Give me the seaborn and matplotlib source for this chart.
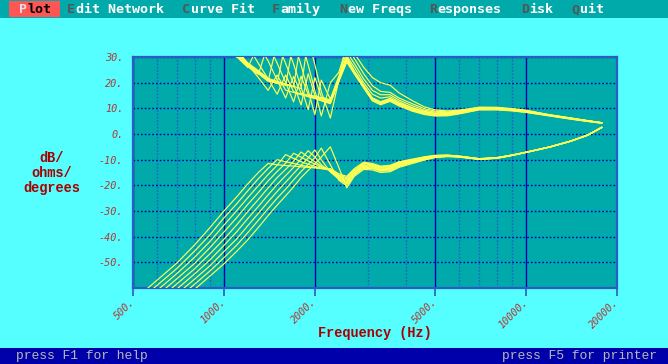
import matplotlib
matplotlib.use("Agg")
import matplotlib.pyplot as plt
from matplotlib.patches import Rectangle
import pandas as pd
import seaborn as sns

# ---------------------------------------------------------------- data
FREQS = [500, 600, 700, 800, 900, 1000, 1100, 1200, 1300, 1400, 1500, 1600,
         1700, 1800, 1900, 2000, 2100, 2250, 2400, 2550, 2700, 2900, 3100,
         3300, 3550, 3800, 4200, 4600, 5000, 5500, 6000, 7000, 8000, 9000,
         10000, 12000, 14000, 16000, 17800]

# response magnitude (dB) for each member of the family
MAG_0 = [66.8, 58.8, 50.8, 44.8, 38.8, 33.8, 34, 27, 22, 17, 23, 17.1, 16.2, 15.3, 14.5, 13.8, 12.9, 11.8, 20.4, 28, 23.4, 17.9, 12.9, 11.4, 12.7, 10.9, 8.9, 7.6, 7, 7.1, 7.8, 9.4, 9.4, 9, 8.4, 7, 5.8, 4.9, 4.2]
MAG_1 = [67.1, 59.1, 51.1, 45.1, 39.1, 34.1, 29.9, 34.4, 27.5, 21.5, 15.5, 23, 16.5, 15.6, 14.8, 14.1, 13.2, 12.1, 20.7, 28.5, 23.7, 18.2, 13.2, 11.7, 13, 11.2, 9.2, 7.9, 7.2, 7.3, 8, 9.5, 9.5, 9.1, 8.5, 7.1, 5.9, 4.9, 4.2]
MAG_2 = [67.4, 59.4, 51.4, 45.4, 39.4, 34.4, 30.2, 25.9, 34.8, 28.5, 21, 14, 22.4, 15.9, 15.1, 14.4, 13.5, 12.4, 21, 29, 24, 18.5, 13.5, 12, 13.3, 11.5, 9.5, 8.2, 7.5, 7.6, 8.3, 9.8, 9.8, 9.3, 8.7, 7.2, 6, 5, 4.3]
MAG_3 = [67.7, 59.7, 51.7, 45.7, 39.7, 34.7, 30.5, 26.2, 23.2, 35.2, 27.6, 20, 12.5, 22.5, 15.4, 14.7, 13.8, 12.7, 21.3, 29.5, 24.3, 18.8, 13.8, 12.3, 13.6, 11.8, 9.8, 8.5, 7.8, 7.9, 8.6, 10.1, 10.1, 9.5, 8.9, 7.3, 6.1, 5.1, 4.4]
MAG_4 = [68, 60, 52, 46, 40, 35, 30.8, 26.5, 23.5, 20.5, 35.6, 27.5, 19.5, 11.3, 23.5, 15, 14.1, 13, 21.6, 30, 24.6, 19.1, 14.1, 12.6, 13.9, 12.1, 10.1, 8.8, 8.1, 8.2, 8.9, 10.4, 10.4, 9.9, 9.3, 7.4, 6.2, 5.2, 4.4]
MAG_5 = [68.3, 60.3, 52.3, 46.3, 40.3, 35.3, 31.1, 26.8, 23.8, 20.8, 19.6, 36, 27.2, 18.3, 9.5, 22, 14.4, 13.3, 22, 30.5, 26, 20, 15.5, 14, 14.5, 12.5, 10.3, 8.8, 8, 7.9, 8.5, 9.9, 9.9, 9.4, 8.8, 7.3, 6.1, 5.1, 4.4]
MAG_6 = [68.6, 60.6, 52.6, 46.6, 40.6, 35.6, 31.4, 27.1, 24.1, 21.1, 19.9, 18.9, 36.4, 26.8, 17, 7.5, 21, 13.6, 22.5, 32, 27.5, 21.5, 17, 15.3, 15.3, 13.2, 11, 9.3, 8.5, 8.3, 8.8, 10.1, 10.1, 9.5, 8.9, 7.4, 6.2, 5.1, 4.4]
MAG_7 = [68.9, 60.9, 52.9, 46.9, 40.9, 35.9, 31.7, 27.4, 24.4, 21.4, 20.2, 19.2, 18.3, 36.8, 26.9, 17, 7, 20, 24, 34, 29.5, 23.5, 18.8, 16.6, 16.2, 14, 11.8, 9.9, 8.9, 8.6, 9, 10.2, 10.2, 9.6, 9, 7.4, 6.2, 5.2, 4.4]
MAG_8 = [69.2, 61.2, 53.2, 47.2, 41.2, 36.2, 32, 27.7, 24.7, 21.7, 20.5, 19.5, 18.6, 17.7, 37.2, 27, 16.5, 6.2, 21, 36, 31.5, 26, 22, 20, 19, 16, 13, 10.6, 9.4, 9, 9.3, 10.4, 10.3, 9.7, 9.1, 7.5, 6.3, 5.2, 4.4]

# phase (degrees / 10) for each member of the family
PHASE_0 = [-65, -57, -50.2, -43.2, -36.4, -30, -24.6, -19.4, -15, -11.5, -12, -12.3, -12.5, -12.8, -13, -13.2, -13.4, -13.5, -15.5, -16.5, -13.5, -11, -11.5, -12.5, -12.2, -10.8, -9.8, -8.9, -8.3, -8.2, -8.6, -9.6, -9.2, -8.2, -7.1, -5.0, -2.8, -0.4, 2.6]
PHASE_1 = [-67, -59, -52.3, -45.6, -39.2, -32.7, -27.3, -22.1, -17.4, -13.4, -10, -10.8, -11.5, -12.2, -12.7, -13.1, -13.5, -13.8, -16, -17, -14, -11.3, -11.8, -12.8, -12.5, -11, -10, -9, -8.4, -8.3, -8.6, -9.6, -9.2, -8.2, -7.1, -5.0, -2.8, -0.4, 2.6]
PHASE_2 = [-69, -61, -54.3, -48, -41.8, -35.5, -30, -24.8, -20.1, -15.8, -12.2, -8, -9.5, -10.8, -11.8, -12.6, -13.4, -14, -16.3, -17.5, -14.3, -11.6, -12, -13, -12.8, -11.2, -10.2, -9.2, -8.5, -8.3, -8.7, -9.7, -9.3, -8.2, -7.1, -5.0, -2.8, -0.4, 2.6]
PHASE_3 = [-71, -63, -56.3, -50.4, -44.2, -38.2, -32.7, -27.4, -22.8, -18.3, -14.6, -11.4, -7.5, -9, -10.5, -11.7, -13, -14.2, -16.6, -18, -14.7, -12, -12.3, -13.3, -13.1, -11.5, -10.4, -9.3, -8.6, -8.4, -8.7, -9.7, -9.3, -8.2, -7.1, -5.0, -2.8, -0.4, 2.6]
PHASE_4 = [-73, -65, -58.3, -52.5, -46.6, -41, -35.5, -30.2, -25.5, -21, -17, -13.8, -10.6, -7, -9, -10.8, -12.6, -14.4, -17, -18.5, -15, -12.3, -12.6, -13.6, -13.4, -11.8, -10.6, -9.5, -8.7, -8.5, -8.8, -9.7, -9.3, -8.2, -7.1, -5.0, -2.8, -0.4, 2.6]
PHASE_5 = [-75, -67, -60.3, -54.5, -49, -43.4, -38.2, -32.9, -28.2, -23.7, -19.7, -16.2, -13, -9.8, -6.5, -9, -12, -14.6, -17.3, -19, -15.3, -12.6, -12.9, -13.9, -13.7, -12, -10.8, -9.6, -8.8, -8.5, -8.8, -9.8, -9.4, -8.3, -7.1, -5.0, -2.8, -0.4, 2.6]
PHASE_6 = [-77, -69, -62.3, -56.5, -51.3, -45.8, -41, -35.7, -30.9, -26.4, -22.4, -18.8, -15.4, -12.2, -9.4, -6.2, -10, -14.8, -17.6, -19.5, -15.7, -13, -13.2, -14.2, -14, -12.3, -11, -9.8, -8.9, -8.6, -8.9, -9.8, -9.4, -8.3, -7.2, -5.1, -2.9, -0.5, 2.5]
PHASE_7 = [-79, -71, -64.3, -58.5, -53.3, -48.2, -43.4, -38.4, -33.6, -29.1, -25, -21.5, -17.9, -14.6, -11.8, -9.2, -5.5, -12, -18, -20.2, -16, -13.4, -13.5, -14.5, -14.3, -12.6, -11.2, -10, -9, -8.7, -8.9, -9.9, -9.4, -8.3, -7.2, -5.1, -2.9, -0.5, 2.5]
PHASE_8 = [-81, -73, -66.3, -60.5, -55.3, -50.6, -45.8, -41.2, -36.4, -31.8, -27.7, -24.1, -20.6, -17, -14.2, -11.6, -9, -5, -13, -21, -16.5, -13.8, -14, -15, -14.7, -13, -11.5, -10.2, -9.2, -8.8, -9, -9.9, -9.5, -8.4, -7.2, -5.1, -2.9, -0.5, 2.5]

MAG = [MAG_0, MAG_1, MAG_2, MAG_3, MAG_4, MAG_5, MAG_6, MAG_7, MAG_8]
PHASE = [PHASE_0, PHASE_1, PHASE_2, PHASE_3, PHASE_4, PHASE_5, PHASE_6, PHASE_7, PHASE_8]

X_TICKS = [500, 1000, 2000, 5000, 10000, 20000]
X_TICK_LABELS = ["500.", "1000.", "2000.", "5000.", "10000.", "20000."]
X_MINOR = [600, 700, 800, 900, 3000, 4000, 6000, 7000, 8000, 9000]
Y_TICKS = [-50, -40, -30, -20, -10, 0, 10, 20, 30]
Y_TICK_LABELS = ["-50.", "-40.", "-30.", "-20.", "-10.", "0.", "10.", "20.", "30."]

MENU_ITEMS = ["Plot", "Edit Network", "Curve Fit", "Family", "New Freqs",
              "Responses", "Disk", "Quit"]
STATUS_LEFT = "press F1 for help"
STATUS_RIGHT = "press F5 for printer"

# ---------------------------------------------------------------- colours
SCREEN = "#55FFFF"
PLOT_BG = "#00AAAA"
FRAME = "#2A5CC4"
GRID_DARK = "#0000AA"
GRID_MINOR = "#2060C8"
TRACE = "#FFFF55"
LABEL_RED = "#AA0000"
TICK_RED = "#B03838"

rows = []
for family, curves in (("mag", MAG), ("phase", PHASE)):
    for i, vals in enumerate(curves):
        assert len(vals) == len(FREQS)
        for f, v in zip(FREQS, vals):
            rows.append({"curve": f"{family}{i}", "freq": f, "value": v})
df = pd.DataFrame(rows)

W, H = 668, 364
fig = plt.figure(figsize=(W / 100, H / 100), dpi=100, facecolor=SCREEN)


def fx(x):
    return x / W


def fy(y):
    return 1 - y / H


# menu bar and status bar
fig.patches.append(Rectangle((0, fy(18)), 1, 18 / H, transform=fig.transFigure,
                             facecolor=PLOT_BG, edgecolor="none", zorder=0))
fig.patches.append(Rectangle((0, 0), 1, 16 / H, transform=fig.transFigure,
                             facecolor="#0000AA", edgecolor="none", zorder=0))
fig.patches.append(Rectangle((fx(9), fy(17)), 51 / W, 16 / H, transform=fig.transFigure,
                             facecolor="#FF5555", edgecolor="none", zorder=1))

MENU_SIZE = 9.6
CHAR_W = 0.602 * MENU_SIZE * 100 / 72          # advance of one monospace cell, px
menu_font = dict(family="DejaVu Sans Mono", weight="bold", size=MENU_SIZE)
menu_x = [19, 67, 182, 272, 339, 429, 521, 571]
for label, x in zip(MENU_ITEMS, menu_x):
    if label == "Plot":
        first_c, rest_c = "#E8E0E0", "#000000"
    else:
        first_c, rest_c = "#555555", "#FFFFFF"
    fig.text(fx(x), fy(9.5), label[0], color=first_c, ha="left", va="center",
             fontdict=menu_font)
    fig.text(fx(x + CHAR_W + 0.5), fy(9.5), label[1:], color=rest_c, ha="left",
             va="center", fontdict=menu_font)

status_font = dict(family="Liberation Mono", size=9.4)
fig.text(fx(16), fy(356), STATUS_LEFT, color="#B8B8B8", ha="left", va="center",
         fontdict=status_font)
fig.text(fx(657), fy(356), STATUS_RIGHT, color="#B8B8B8", ha="right", va="center",
         fontdict=status_font)

# plotting area
ax = fig.add_axes([fx(133), fy(288), 484 / W, 231 / H])
ax.set_facecolor(PLOT_BG)
ax.set_xscale("log")

sns.lineplot(data=df, x="freq", y="value", units="curve", estimator=None,
             color=TRACE, lw=0.85, sort=False, legend=False, ax=ax, zorder=3)

ax.set_xlim(500, 20000)
ax.set_ylim(-60, 30)

ax.set_xticks(X_TICKS)
ax.set_xticklabels(X_TICK_LABELS)
ax.set_xticks(X_MINOR, minor=True)
ax.set_xticklabels([], minor=True)
ax.set_yticks(Y_TICKS)
ax.set_yticklabels(Y_TICK_LABELS)

tick_font = dict(family="DejaVu Sans Mono", style="italic", size=7.3)
ax.tick_params(axis="x", which="major", length=6, width=1.2, color=FRAME,
               direction="out", pad=3, labelcolor=TICK_RED)
ax.tick_params(axis="x", which="minor", length=0)
ax.tick_params(axis="y", which="both", length=0, pad=7, labelcolor=TICK_RED)
for lab in ax.get_xticklabels():
    lab.set_fontfamily(tick_font["family"])
    lab.set_fontstyle("italic")
    lab.set_fontsize(tick_font["size"])
    lab.set_rotation(45)
    lab.set_rotation_mode("anchor")
    lab.set_ha("right")
    lab.set_va("center")
for lab in ax.get_yticklabels():
    lab.set_fontfamily(tick_font["family"])
    lab.set_fontstyle("italic")
    lab.set_fontsize(tick_font["size"])

ax.grid(which="major", axis="x", color=GRID_DARK, lw=1.0, ls="-")
ax.grid(which="minor", axis="x", color=GRID_MINOR, lw=1.0, ls=(0, (1.2, 1.2)))
ax.grid(which="major", axis="y", color=GRID_DARK, lw=1.0, ls=(0, (1.2, 1.5)))
ax.set_axisbelow(True)

for sp in ax.spines.values():
    sp.set_color(FRAME)
    sp.set_linewidth(1.6)

ax.set_xlabel("")
ax.set_ylabel("")

label_font = dict(family="Liberation Mono", weight="bold", size=9.8)
fig.text(fx(52), fy(173), "dB/\nohms/\ndegrees", color=LABEL_RED, ha="center",
         va="center", ma="center", linespacing=1.12, fontdict=label_font)
fig.text(fx(375), fy(333), "Frequency (Hz)", color=LABEL_RED, ha="center",
         va="center", fontdict=label_font)

fig.savefig("out.png", dpi=100, facecolor=fig.get_facecolor())
